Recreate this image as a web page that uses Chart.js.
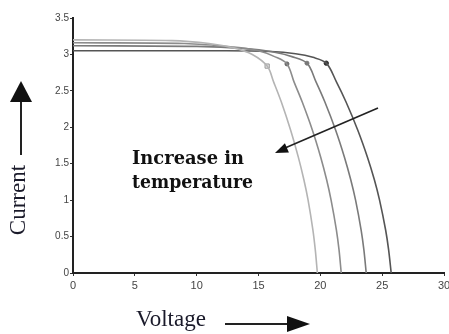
<!DOCTYPE html>
<html>
<head>
<meta charset="utf-8">
<script src="https://cdn.jsdelivr.net/npm/chart.js@4/dist/chart.umd.min.js"></script>
<style>
  html, body { margin: 0; padding: 0; background: #fff; }
  #wrap { width: 449px; height: 334px; position: relative; }
</style>
</head>
<body>
<div id="wrap"><canvas id="iv"></canvas></div>
<script>
// I-V curves, hottest (left) to coolest (right)
const volts1 = [0, 8, 11, 13, 14.5, 15.7, 16.23, 16.84, 17.6, 18.22, 18.67, 19.01, 19.4, 19.59, 19.76];
const amps1  = [3.2, 3.19, 3.15, 3.09, 3.0, 2.84, 2.62, 2.35, 1.96, 1.59, 1.28, 1.0, 0.59, 0.32, 0];
const volts2 = [0, 9, 13, 15, 16.3, 17.3, 17.88, 18.53, 19.36, 20.03, 20.51, 20.87, 21.3, 21.51, 21.69];
const amps2  = [3.16, 3.15, 3.1, 3.05, 2.97, 2.87, 2.62, 2.35, 1.96, 1.59, 1.28, 1.0, 0.59, 0.32, 0];
const volts3 = [0, 10, 14, 16, 17.7, 18.92, 19.66, 20.36, 21.24, 21.95, 22.46, 22.85, 23.3, 23.52, 23.71];
const amps3  = [3.12, 3.11, 3.08, 3.04, 2.97, 2.88, 2.62, 2.35, 1.96, 1.59, 1.28, 1.0, 0.59, 0.32, 0];
const volts4 = [0, 12, 16, 18, 19.4, 20.48, 21.31, 22.07, 23.03, 23.81, 24.37, 24.79, 25.28, 25.52, 25.73];
const amps4  = [3.05, 3.05, 3.04, 3.01, 2.96, 2.88, 2.62, 2.35, 1.96, 1.59, 1.28, 1.0, 0.59, 0.32, 0];

// maximum power point markers
const markVolts = [15.7, 17.3, 18.92, 20.48];
const markAmps  = [2.84, 2.87, 2.88, 2.88];

const xTicks = [0, 5, 10, 15, 20, 25, 30];
const yTicks = [0, 0.5, 1, 1.5, 2, 2.5, 3, 3.5];

const lineColors = ["#b4b4b4", "#8c8c8c", "#7a7a7a", "#555555"];

function pts(xs, ys) {
  return xs.map((v, i) => ({ x: v, y: ys[i] }));
}

const curves = [[volts1, amps1], [volts2, amps2], [volts3, amps3], [volts4, amps4]];
const datasets = curves.map((c, i) => ({
  data: pts(c[0], c[1]),
  showLine: true,
  borderColor: lineColors[i],
  borderWidth: 1.6,
  pointRadius: 0,
  tension: 0.35
}));
datasets.push({
  data: pts(markVolts, markAmps),
  showLine: false,
  pointStyle: ["rect", "circle", "circle", "circle"],
  pointRadius: [3, 2, 2, 2.2],
  pointBackgroundColor: ["#e6e6e6", "#666", "#777", "#333"],
  pointBorderColor: ["#999", "#666", "#777", "#333"],
  pointBorderWidth: 1
});

function arrowHead(ctx, tipX, tipY, fromX, fromY, len, half) {
  const a = Math.atan2(tipY - fromY, tipX - fromX);
  ctx.beginPath();
  ctx.moveTo(tipX, tipY);
  ctx.lineTo(tipX - len * Math.cos(a) + half * Math.sin(a), tipY - len * Math.sin(a) - half * Math.cos(a));
  ctx.lineTo(tipX - len * Math.cos(a) - half * Math.sin(a), tipY - len * Math.sin(a) + half * Math.cos(a));
  ctx.closePath();
  ctx.fill();
}

const notes = {
  id: "notes",
  afterDraw(chart) {
    const ctx = chart.ctx;
    ctx.save();
    ctx.fillStyle = "#111";
    ctx.strokeStyle = "#222";

    // in-plot text and arrow
    ctx.font = "bold 18px 'DejaVu Serif'";
    ctx.textAlign = "left";
    ctx.textBaseline = "middle";
    ctx.fillText("Increase in", 132, 159, 112);
    ctx.fillText("temperature", 132, 183, 121);
    ctx.lineWidth = 1.6;
    ctx.beginPath();
    ctx.moveTo(378, 108);
    ctx.lineTo(285, 148);
    ctx.stroke();
    arrowHead(ctx, 275, 153, 378, 108, 13, 5);

    // axis titles with arrows
    ctx.font = "23px 'Liberation Serif'";
    ctx.fillStyle = "#1a1a2a";
    ctx.textAlign = "center";
    ctx.fillText("Voltage", 171, 320);
    ctx.save();
    ctx.translate(19, 200);
    ctx.rotate(-Math.PI / 2);
    ctx.fillText("Current", 0, 0);
    ctx.restore();

    ctx.fillStyle = "#111";
    ctx.lineWidth = 2;
    ctx.beginPath();
    ctx.moveTo(225, 324);
    ctx.lineTo(292, 324);
    ctx.stroke();
    arrowHead(ctx, 310, 324, 225, 324, 23, 8);

    ctx.beginPath();
    ctx.moveTo(21, 155);
    ctx.lineTo(21, 98);
    ctx.stroke();
    arrowHead(ctx, 21, 81, 21, 155, 21, 11);
    ctx.restore();
  }
};

new Chart(document.getElementById("iv"), {
  type: "scatter",
  data: { datasets: datasets },
  options: {
    responsive: true,
    maintainAspectRatio: false,
    animation: false,
    layout: { padding: { top: 18, right: 4, left: 0, bottom: 0 } },
    plugins: { legend: { display: false }, tooltip: { enabled: false } },
    scales: {
      x: {
        type: "linear",
        min: 0,
        max: 30,
        afterBuildTicks: s => { s.ticks = xTicks.map(v => ({ value: v })); },
        afterFit: s => { s.height = 61; s.paddingLeft = 0; s.paddingRight = 0; },
        grid: { drawOnChartArea: false, tickLength: 3, color: "#333" },
        border: { color: "#222", width: 2 },
        ticks: { color: "#444", padding: 3, font: { family: "'Liberation Sans'", size: 11 }, callback: v => String(v) }
      },
      y: {
        type: "linear",
        min: 0,
        max: 3.5,
        afterBuildTicks: s => { s.ticks = yTicks.map(v => ({ value: v })); },
        afterFit: s => { s.width = 73; },
        grid: { drawOnChartArea: false, tickLength: 3, color: "#333" },
        border: { color: "#222", width: 2 },
        ticks: { color: "#444", padding: 1, font: { family: "'Liberation Sans'", size: 10 }, callback: v => String(v) }
      }
    }
  },
  plugins: [notes]
});
</script>
</body>
</html>
